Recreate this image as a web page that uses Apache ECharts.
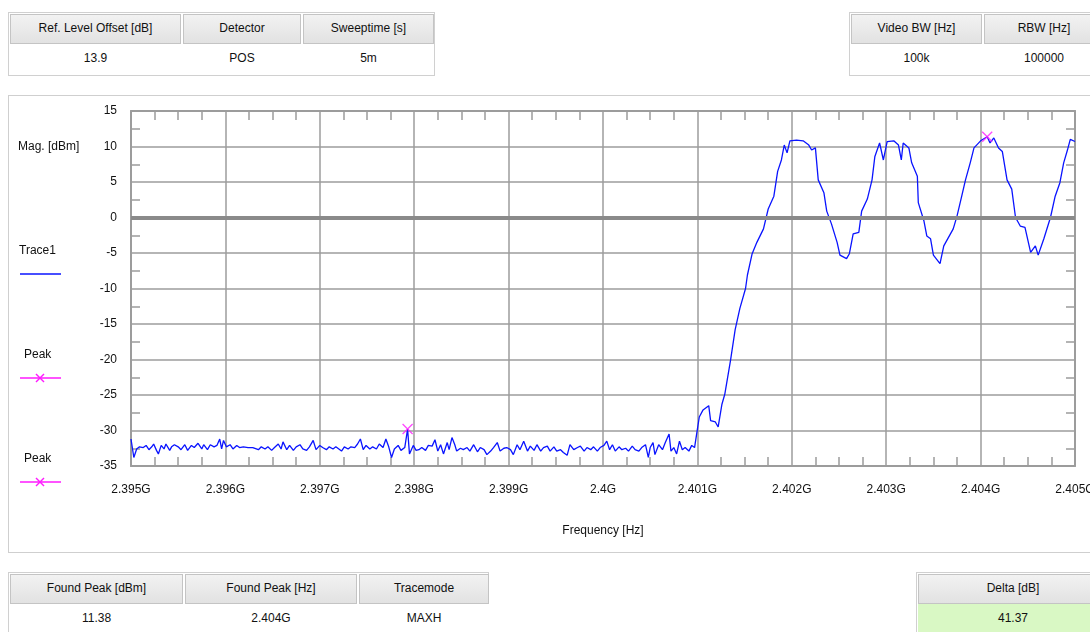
<!DOCTYPE html>
<html>
<head>
<meta charset="utf-8">
<script src="https://cdn.jsdelivr.net/npm/echarts@6/dist/echarts.min.js"></script>
<style>
  body { margin: 0; background: #fff; font-family: "Liberation Sans", Arial, sans-serif; }
  #page { position: relative; width: 1090px; height: 632px; overflow: hidden; }
  #graph { position: absolute; left: 0; top: 0; width: 1090px; height: 632px; }
  .panel { position: absolute; border: 1px solid #cfcfcf; background: #fff; box-sizing: border-box; }
  .box { position: absolute; border: 1px solid #d0d0d0; box-sizing: border-box; background: #fff; }
  .cell { position: absolute; box-sizing: border-box; font-size: 12px; color: #111; text-align: center; }
  .head { background: linear-gradient(#f2f2f2, #e2e2e2); border: 1px solid #c4c4c4; line-height: 27px; }
  .val { background: #fff; line-height: 28px; }
  .green { background: #d9f8c4; }
</style>
</head>
<body>
<div id="page">
  <div class="panel" style="left:8px;top:95px;width:1090px;height:458px;"></div>
  <div id="graph"></div>
</div>
<script>
// info boxes
var topLeftLabels = ["Ref. Level Offset [dB]", "Detector", "Sweeptime [s]"];
var topLeftValues = ["13.9", "POS", "5m"];
var topRightLabels = ["Video BW [Hz]", "RBW [Hz]"];
var topRightValues = ["100k", "100000"];
var bottomLeftLabels = ["Found Peak [dBm]", "Found Peak [Hz]", "Tracemode"];
var bottomLeftValues = ["11.38", "2.404G", "MAXH"];
var deltaLabel = "Delta [dB]";
var deltaValue = "41.37";

// trace, frequency in MHz, level in dBm
var traceFreq = [
  2395.00, 2395.03, 2395.06, 2395.09, 2395.13, 2395.16, 2395.19, 2395.22, 2395.24, 2395.27,
  2395.29, 2395.32, 2395.35, 2395.37, 2395.41, 2395.43, 2395.46, 2395.50, 2395.53, 2395.57,
  2395.60, 2395.64, 2395.67, 2395.71, 2395.75, 2395.77, 2395.81, 2395.84, 2395.88, 2395.91,
  2395.94, 2395.96, 2395.98, 2396.01, 2396.05, 2396.08, 2396.12, 2396.15, 2396.19, 2396.24,
  2396.29, 2396.35, 2396.38, 2396.42, 2396.45, 2396.49, 2396.52, 2396.56, 2396.59, 2396.61,
  2396.65, 2396.68, 2396.72, 2396.75, 2396.79, 2396.82, 2396.86, 2396.89, 2396.93, 2396.96,
  2397.00, 2397.03, 2397.07, 2397.10, 2397.14, 2397.17, 2397.23, 2397.26, 2397.30, 2397.33,
  2397.37, 2397.40, 2397.43, 2397.46, 2397.49, 2397.53, 2397.56, 2397.60, 2397.63, 2397.67,
  2397.70, 2397.73, 2397.76, 2397.79, 2397.83, 2397.86, 2397.90, 2397.93, 2397.95, 2397.99,
  2398.02, 2398.05, 2398.08, 2398.12, 2398.15, 2398.19, 2398.22, 2398.25, 2398.28, 2398.31,
  2398.35, 2398.37, 2398.40, 2398.43, 2398.45, 2398.49, 2398.52, 2398.56, 2398.59, 2398.63,
  2398.67, 2398.70, 2398.74, 2398.77, 2398.81, 2398.84, 2398.88, 2398.91, 2398.95, 2398.98,
  2399.02, 2399.05, 2399.09, 2399.12, 2399.16, 2399.20, 2399.23, 2399.27, 2399.30, 2399.34,
  2399.37, 2399.41, 2399.44, 2399.48, 2399.51, 2399.55, 2399.58, 2399.62, 2399.65, 2399.69,
  2399.73, 2399.76, 2399.80, 2399.83, 2399.87, 2399.90, 2399.94, 2399.97, 2400.01, 2400.04,
  2400.07, 2400.10, 2400.13, 2400.17, 2400.20, 2400.24, 2400.27, 2400.31, 2400.34, 2400.38,
  2400.41, 2400.45, 2400.48, 2400.50, 2400.53, 2400.55, 2400.59, 2400.63, 2400.66, 2400.70,
  2400.72, 2400.75, 2400.78, 2400.81, 2400.84, 2400.87, 2400.91, 2400.94, 2400.97, 2400.99,
  2401.00, 2401.02, 2401.06, 2401.12, 2401.14, 2401.19, 2401.22, 2401.26, 2401.29, 2401.35,
  2401.40, 2401.45, 2401.51, 2401.53, 2401.58, 2401.63, 2401.70, 2401.75, 2401.81, 2401.85,
  2401.89, 2401.92, 2401.95, 2401.98, 2402.05, 2402.12, 2402.18, 2402.21, 2402.25, 2402.28,
  2402.34, 2402.37, 2402.42, 2402.48, 2402.51, 2402.58, 2402.61, 2402.65, 2402.71, 2402.74,
  2402.80, 2402.85, 2402.88, 2402.93, 2402.97, 2403.01, 2403.08, 2403.13, 2403.16, 2403.18,
  2403.24, 2403.27, 2403.33, 2403.34, 2403.40, 2403.43, 2403.47, 2403.50, 2403.57, 2403.61,
  2403.66, 2403.71, 2403.75, 2403.80, 2403.84, 2403.89, 2403.93, 2404.00, 2404.07, 2404.10,
  2404.14, 2404.19, 2404.23, 2404.28, 2404.33, 2404.37, 2404.42, 2404.47, 2404.53, 2404.58,
  2404.61, 2404.67, 2404.74, 2404.79, 2404.84, 2404.88, 2404.92, 2404.95, 2405.00
];
var traceLevel = [
  -31.2, -33.8, -32.6, -32.3, -32.4, -32.1, -32.7, -32.3, -31.9, -32.8,
  -33.3, -32.1, -32.6, -31.9, -32.8, -32.3, -32.0, -32.3, -32.7, -32.0,
  -32.8, -32.1, -32.4, -31.8, -32.6, -32.0, -32.7, -32.0, -32.3, -32.1,
  -31.2, -32.6, -31.4, -32.3, -32.0, -32.6, -32.1, -32.4, -32.3, -32.4,
  -32.4, -32.7, -32.3, -32.6, -32.3, -32.8, -32.4, -31.9, -32.6, -31.6,
  -32.7, -32.1, -32.8, -32.3, -32.0, -32.6, -32.8, -32.3, -31.4, -32.7,
  -32.1, -32.4, -32.7, -32.3, -32.6, -32.3, -32.9, -32.3, -32.6, -32.3,
  -32.4, -31.9, -31.2, -32.7, -32.1, -32.6, -32.3, -32.6, -31.9, -32.4,
  -31.2, -32.3, -33.8, -32.6, -32.1, -32.8, -32.4, -29.8, -33.3, -32.1,
  -32.8, -32.7, -32.4, -32.8, -32.1, -32.2, -31.3, -32.9, -32.0, -33.3,
  -31.7, -32.7, -31.0, -32.0, -32.9, -32.5, -32.7, -32.4, -32.9, -32.0,
  -33.0, -32.4, -32.7, -33.4, -32.9, -32.4, -31.7, -32.9, -32.5, -32.4,
  -32.7, -33.4, -32.0, -32.7, -31.5, -32.9, -32.2, -32.8, -32.0, -32.9,
  -32.4, -32.2, -32.9, -32.3, -32.9, -32.7, -33.1, -33.5, -32.0, -32.7,
  -32.4, -32.2, -32.9, -32.4, -32.7, -32.3, -32.9, -32.4, -32.1, -31.5,
  -32.7, -32.0, -32.9, -32.3, -32.7, -32.5, -32.9, -32.2, -32.7, -32.9,
  -32.4, -32.0, -33.8, -32.4, -31.7, -33.4, -32.0, -32.7, -31.7, -30.5,
  -32.9, -32.4, -33.3, -31.5, -32.7, -32.4, -32.9, -32.1, -32.4, -32.5,
  -29.8, -28.1, -27.1, -26.5, -28.6, -28.8, -29.5, -26.3, -24.9, -20.2,
  -15.8, -12.8, -10.0, -8.1, -5.1, -3.5, -1.6, 1.2, 3.0, 6.5,
  8.1, 10.2, 9.1, 10.8, 10.9, 10.8, 10.2, 9.5, 9.8, 5.3,
  3.5, 0.9, -0.9, -3.5, -5.3, -5.8, -5.1, -2.3, -2.1, 0.9,
  2.6, 5.3, 8.6, 10.5, 8.1, 10.7, 10.8, 10.2, 8.1, 10.5,
  9.8, 7.7, 5.8, 2.1, -0.5, -2.6, -3.0, -5.3, -6.5, -4.0,
  -2.8, -1.6, 0.2, 3.0, 5.3, 7.7, 9.8, 10.8, 11.38, 10.5,
  11.2, 9.8, 9.3, 5.3, 4.0, 0.0, -1.2, -1.4, -4.9, -4.0,
  -5.3, -3.0, 0.0, 3.0, 4.9, 7.7, 9.5, 11.0, 10.7
];

// peak markers
var peakFreq = [2397.93, 2404.07];
var peakLevel = [-29.8, 11.38];

// axis ranges
var freqMin = 2395, freqMax = 2405, freqStep = 1;
var levelMin = -35, levelMax = 15, levelStep = 5;

function addBox(left, top, width, labels, values, widths, green) {
    var page = document.getElementById("page");
    var box = document.createElement("div");
    box.className = "box";
    box.style.cssText = "left:" + left + "px;top:" + top + "px;width:" + width + "px;height:64px;";
    page.appendChild(box);
    var x = 1;
    for (var i = 0; i < labels.length; i++) {
        var h = document.createElement("div");
        h.className = "cell head";
        h.style.cssText = "left:" + x + "px;top:1px;width:" + widths[i] + "px;height:30px;";
        h.textContent = labels[i];
        box.appendChild(h);
        var v = document.createElement("div");
        v.className = "cell val" + (green ? " green" : "");
        v.style.cssText = "left:" + x + "px;top:31px;width:" + widths[i] + "px;height:30px;";
        v.textContent = values[i];
        box.appendChild(v);
        x += widths[i] + 2;
    }
}
addBox(8, 12, 427, topLeftLabels, topLeftValues, [171, 118, 131]);
addBox(849, 12, 250, topRightLabels, topRightValues, [131, 120]);
addBox(8, 572, 481, bottomLeftLabels, bottomLeftValues, [173, 172, 130]);
addBox(916, 572, 190, [deltaLabel], [deltaValue], [190], true);

var chart = echarts.init(document.getElementById("graph"));

var data = traceFreq.map(function (f, i) { return [f, traceLevel[i]]; });
var peaks = peakFreq.map(function (f, i) { return [f, peakLevel[i]]; });

var gridColor = "#9c9c9c";
var blue = "#0a14ff";
var pink = "#ff1aff";
var xSym = "path://M0,0L10,10M10,0L0,10";

function xAxisCfg(pos, showLabel) {
    return {
        type: "value",
        position: pos,
        min: freqMin,
        max: freqMax,
        interval: freqStep,
        axisLine: { show: true, onZero: false, lineStyle: { color: gridColor, width: 2 } },
        axisTick: { show: false, inside: true },
        minorTick: { show: true, splitNumber: 4, length: 9, lineStyle: { color: gridColor, width: 1.5 } },
        splitLine: { show: showLabel, lineStyle: { color: gridColor, width: 1.5 } },
        axisLabel: {
            show: showLabel,
            margin: 18,
            color: "#111",
            fontSize: 12,
            fontFamily: "Liberation Sans",
            formatter: function (v) { return (v / 1000) + "G"; }
        },
        name: showLabel ? "Frequency [Hz]" : "",
        nameLocation: "middle",
        nameGap: 59,
        nameTextStyle: { color: "#111", fontSize: 12, fontFamily: "Liberation Sans" }
    };
}

function yAxisCfg(pos, showLabel) {
    return {
        type: "value",
        position: pos,
        min: levelMin,
        max: levelMax,
        interval: levelStep,
        axisLine: { show: true, onZero: false, lineStyle: { color: gridColor, width: 2 } },
        axisTick: { show: false, inside: true },
        minorTick: { show: true, splitNumber: 2, length: 9, lineStyle: { color: gridColor, width: 1.5 } },
        splitLine: { show: showLabel, lineStyle: { color: gridColor, width: 1.5 } },
        axisLabel: { show: showLabel, margin: 14, color: "#111", fontSize: 12, fontFamily: "Liberation Sans" }
    };
}

function legendText(txt, x, y) {
    return { type: "text", x: x, y: y, style: { text: txt, fill: "#111", fontSize: 12, fontFamily: "Liberation Sans" } };
}
function legendLine(x1, y1, x2, y2, color) {
    return { type: "line", shape: { x1: x1, y1: y1, x2: x2, y2: y2 }, style: { stroke: color, lineWidth: 1.5 } };
}

var option = {
    animation: false,
    backgroundColor: "transparent",
    grid: { left: 131, top: 111, width: 944, height: 355, outerBoundsMode: "none", containLabel: false },
    xAxis: [xAxisCfg("bottom", true), xAxisCfg("top", false)],
    yAxis: [yAxisCfg("left", true), yAxisCfg("right", false)],
    graphic: [
        legendText("Mag. [dBm]", 18, 141),
        legendText("Trace1", 19, 245),
        legendLine(20, 274, 61, 274, blue),
        legendText("Peak", 24, 349),
        legendLine(20, 378, 61, 378, pink),
        legendLine(36, 374, 44, 382, pink),
        legendLine(44, 374, 36, 382, pink),
        legendText("Peak", 24, 453),
        legendLine(20, 482, 61, 482, pink),
        legendLine(36, 478, 44, 486, pink),
        legendLine(44, 478, 36, 486, pink)
    ],
    series: [
        {
            name: "Trace1",
            type: "line",
            data: data,
            showSymbol: false,
            lineStyle: { color: blue, width: 1.3 },
            z: 3,
            markLine: {
                silent: true,
                symbol: ["none", "none"],
                label: { show: false },
                lineStyle: { color: "#8a8a8a", width: 4, type: "solid" },
                data: [{ yAxis: 0 }]
            }
        },
        {
            name: "Peak",
            type: "scatter",
            data: peaks,
            symbol: xSym,
            symbolSize: 10,
            itemStyle: { color: "none", borderColor: pink, borderWidth: 1.3 },
            z: 4
        }
    ]
};
chart.setOption(option);
</script>
</body>
</html>
